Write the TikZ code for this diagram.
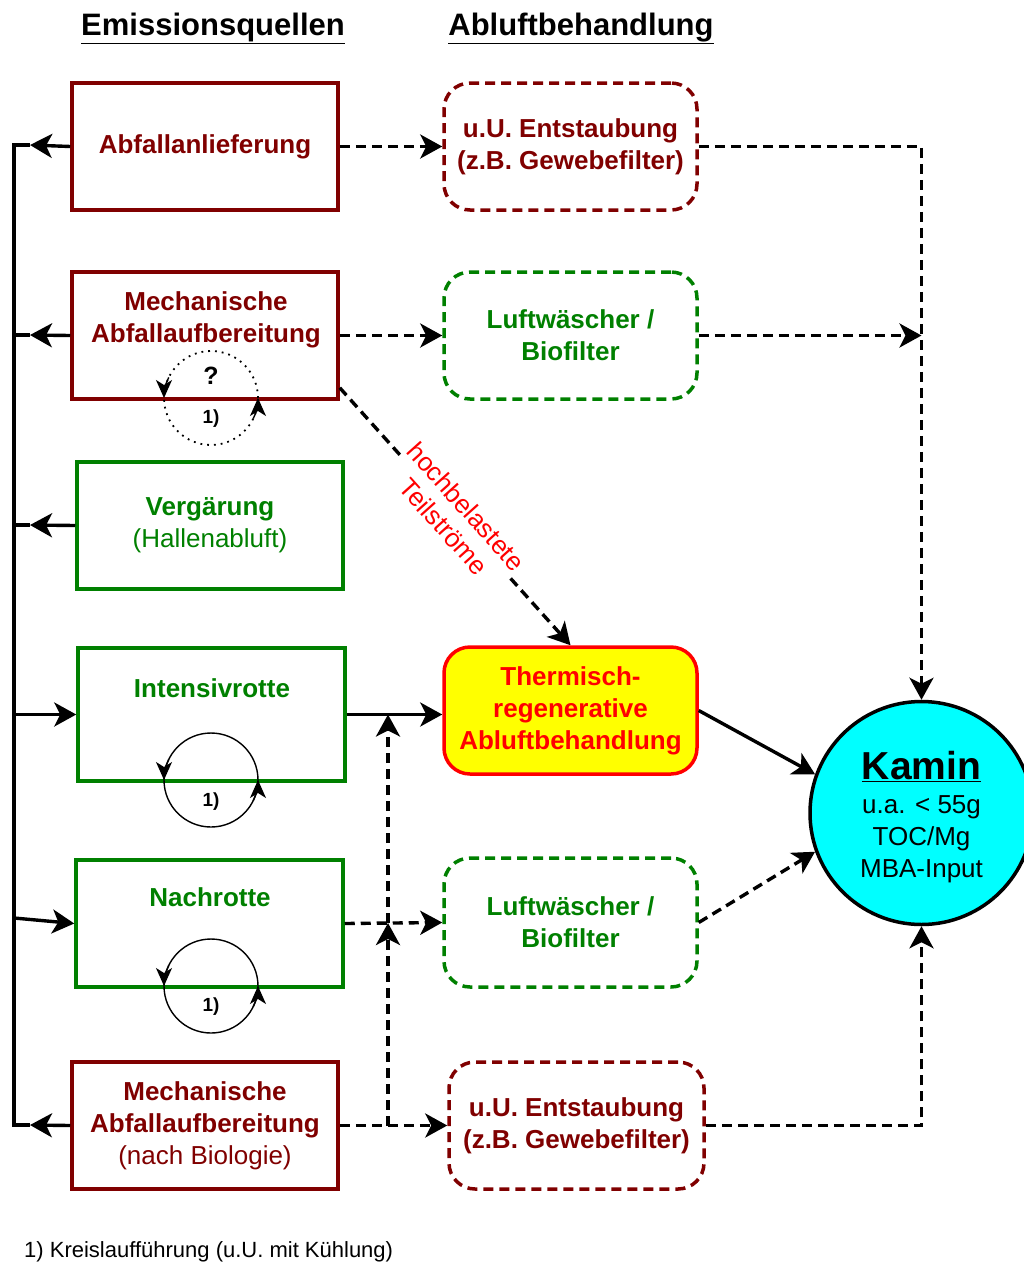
\documentclass[tikz,border=0pt]{standalone}
\usepackage{fontspec}
\setmainfont{Liberation Sans}
\usetikzlibrary{arrows.meta}
\definecolor{dred}{RGB}{128,0,0}
\definecolor{dgreen}{RGB}{0,128,0}
\definecolor{kcyan}{RGB}{0,255,255}
\definecolor{kyellow}{RGB}{255,255,0}
\definecolor{kred}{RGB}{255,0,0}
\begin{document}
\begin{tikzpicture}[x=1pt,y=-1pt]
\tikzset{
 srcbox/.style={draw=#1, line width=3.5pt, text=#1, align=center, inner sep=0pt, font=\fontsize{26}{32}\selectfont\bfseries},
 trtbox/.style={draw=#1, line width=3.5pt, dash pattern=on 10pt off 6pt, rounded corners=26pt, text=#1, align=center, inner sep=0pt, font=\fontsize{26}{32}\selectfont\bfseries},
 boxtext/.style={text=#1, align=center, inner sep=0pt, font=\fontsize{26}{32}\selectfont\bfseries},
 conn/.style={line width=3.4pt, draw=black},
 dconn/.style={conn, dash pattern=on 10pt off 6pt},
 withtip/.style={-{Stealth[length=22pt,width=24pt,inset=6pt]}},
 looparc/.style={line width=1.4pt},
 looptip/.style={-{Stealth[length=18pt,width=16pt,inset=5pt]}},
 lbl/.style={font=\fontsize{19}{22}\selectfont\bfseries, inner sep=0pt},
 header/.style={font=\fontsize{31}{36}\selectfont\bfseries, anchor=base},
}
\useasboundingbox (0,0) rectangle (1024,1262);

% headers
\node[header] (h1) at (213,35) {\underline{Emissionsquellen}};
\node[header] (h2) at (581,35) {\underline{Abluftbehandlung}};

% source boxes
\node[srcbox=dred, minimum width=266pt, minimum height=127pt] (q1) at (205,146.5) {Abfallanlieferung};
\node[srcbox=dred, minimum width=266pt, minimum height=127pt] (q2) at (205,335.5) {};
\node[boxtext=dred] (q2t) at (206,320) {Mechanische\\Abfallaufbereitung};
\node[srcbox=dgreen, minimum width=266pt, minimum height=127pt] (q3) at (210,525.5) {Vergärung\\\mdseries(Hallenabluft)};
\node[srcbox=dgreen, minimum width=267pt, minimum height=133pt] (q4) at (211.5,714.5) {};
\node[boxtext=dgreen] (q4t) at (212,688) {Intensivrotte};
\node[srcbox=dgreen, minimum width=267pt, minimum height=127pt] (q5) at (209.5,923.5) {};
\node[boxtext=dgreen] (q5t) at (210,897) {Nachrotte};
\node[srcbox=dred, minimum width=266pt, minimum height=127pt] (q6) at (205,1125.5) {Mechanische\\Abfallaufbereitung\\\mdseries(nach Biologie)};

% treatment boxes
\node[trtbox=dred, minimum width=253pt, minimum height=127pt] (e1) at (570.5,146.5) {u.U. Entstaubung\\(z.B. Gewebefilter)};
\node[trtbox=dgreen, minimum width=253pt, minimum height=127pt] (e2) at (570.5,335.5) {Luftwäscher /\\Biofilter};
\node[draw=kred, fill=kyellow, line width=3.5pt, rounded corners=26pt, text=kred, align=center, inner sep=0pt, font=\fontsize{26}{32}\selectfont\bfseries, minimum width=253pt, minimum height=127pt] (th) at (570.5,710.5) {Thermisch-\\regenerative\\Abluftbehandlung};
\node[trtbox=dgreen, minimum width=253pt, minimum height=129pt] (e4) at (570.5,922.5) {Luftwäscher /\\Biofilter};
\node[trtbox=dred, minimum width=255pt, minimum height=127pt] (e5) at (576.5,1125.5) {u.U. Entstaubung\\(z.B. Gewebefilter)};

% Kamin
\node[circle, draw=black, fill=kcyan, line width=3.5pt, minimum size=223pt, inner sep=0pt] (kamin) at (921.5,813) {};
\node[align=center, inner sep=0pt, font=\fontsize{26}{32}\selectfont] (kt) at (921.5,817) {{\fontsize{39}{40}\selectfont\bfseries\underline{Kamin}}\\[2pt]u.a. < 55g\\TOC/Mg\\MBA-Input};

% bus on the left
\coordinate (b1) at (14,145);
\coordinate (t1) at (30,145);
\coordinate (b2) at (14,335);
\coordinate (t2) at (30,335);
\coordinate (b3) at (14,525);
\coordinate (t3) at (30,525);
\coordinate (b4) at (14,714.5);
\coordinate (b5) at (14,918);
\coordinate (b6) at (14,1125);
\coordinate (t6) at (30,1125);
\draw[conn, line join=miter] (t1) -- (b1) -- (b6) -- (t6);
\draw[conn] (b2) -- (t2);
\draw[conn] (b3) -- (t3);
\draw[conn, withtip] (q1.west) -- (t1);
\draw[conn, withtip] (q2.west) -- (t2);
\draw[conn, withtip] (q3.west) -- (t3);
\draw[conn, withtip] (q6.west) -- (t6);
\draw[conn, withtip] (b4) -- (q4.west);
\draw[conn, withtip] (b5) -- (q5.west);

% source -> treatment
\draw[dconn, withtip] (q1.east) -- (e1.west);
\draw[dconn, withtip] (q2.east) -- (e2.west);
\draw[conn, withtip] (q4.east) -- (q4.east -| th.west);
\draw[dconn, withtip] (q5.east) -- (e4.west);
\draw[dconn, withtip] (q6.east) -- (e5.west);

% vertical bypass
\coordinate (v1) at (388,714.5);
\coordinate (v2) at (388,923);
\coordinate (v3) at (388,1125.5);
\draw[dconn, withtip] (v3) -- (v2);
\draw[dconn, withtip] (v2) -- (v1);

% high-load partial streams
\draw[dconn, withtip] ([yshift=13pt]q2.south east) -- (th.north)
  node[midway, sloped, fill=white, text=kred, align=center, inner sep=1pt, font=\fontsize{26}{30}\selectfont] (hl) {hochbelastete\\Teilströme};

% treatment -> Kamin
\draw[dconn, withtip] (e1.east) -| (kamin.north);
\draw[dconn, withtip] (e2.east) -- (e2.east -| kamin.north);
\draw[conn, withtip] (th.east) -- (kamin.160);
\draw[dconn, withtip] (e4.east) -- (kamin.200);
\draw[dconn, withtip] (e5.east) -| (kamin.south);

% loops
\coordinate (c1) at (211,398);
\coordinate (c2) at (211,780);
\coordinate (c3) at (211,986);
\draw[line width=1.8pt, dash pattern=on 1.8pt off 5pt] (c1) circle[radius=47pt];
\draw[looparc] (c2) circle[radius=47pt];
\draw[looparc] (c3) circle[radius=47pt];
\foreach \c in {c1,c2,c3}{
  \draw[looparc, looptip] (\c) ++(154:47pt) arc[start angle=154, end angle=180, radius=47pt];
  \draw[looparc, looptip] (\c) ++(334:47pt) arc[start angle=334, end angle=360, radius=47pt];
}
\node[lbl, font=\fontsize{25}{26}\selectfont\bfseries] (qm) at (211,376) {?};
\node[lbl] (l1) at (211,419) {1)};
\node[lbl] (l2) at (211,802) {1)};
\node[lbl] (l3) at (211,1007) {1)};

% footnote
\node[anchor=base west, inner sep=0pt, font=\fontsize{22}{24}\selectfont] (fn) at (24,1257) {1) Kreislaufführung (u.U. mit Kühlung)};
\end{tikzpicture}
\end{document}
